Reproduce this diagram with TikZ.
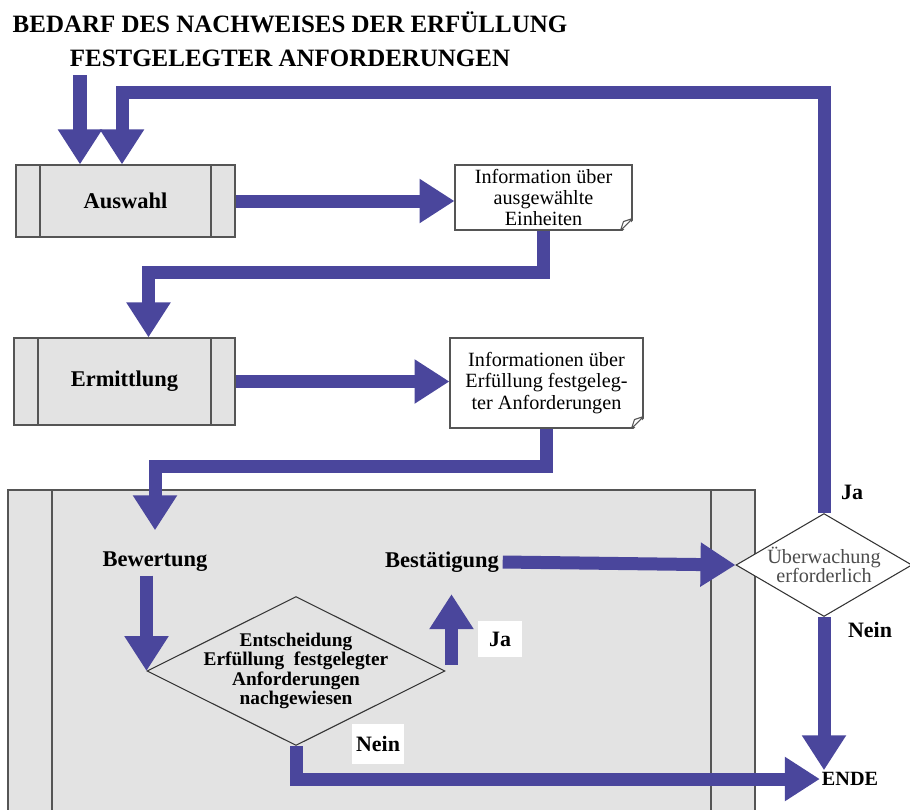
\documentclass[tikz,border=0pt]{standalone}
\usepackage{fontspec}
\setmainfont{Liberation Serif}
\usetikzlibrary{positioning,shapes.geometric,arrows.meta,calc}
\definecolor{flowblue}{RGB}{74,70,156}
\definecolor{boxgray}{RGB}{227,227,227}
\definecolor{linegray}{RGB}{85,85,85}

\tikzset{
  flow/.style={draw=flowblue, line width=7.4pt, -{Triangle[length=0.7cm,width=0.84cm]}},
  process/.style={draw=linegray, fill=boxgray, line width=0.7pt, inner sep=0pt,
    font=\bfseries\fontsize{12.8}{15}\selectfont,
    path picture={
      \draw[linegray, line width=0.7pt] ([xshift=#1]path picture bounding box.north west) -- ([xshift=#1]path picture bounding box.south west);
      \draw[linegray, line width=0.7pt] ([xshift=-#1]path picture bounding box.north east) -- ([xshift=-#1]path picture bounding box.south east);
    }},
  process/.default=0.48cm,
  info/.style={draw=linegray, fill=white, line width=0.6pt, align=center, inner sep=0pt,
    font=\fontsize{11.5}{12}\selectfont},
  decision/.style={diamond, draw=black!80, line width=0.6pt, align=center, inner sep=0pt},
  stepname/.style={font=\bfseries\fontsize{12.8}{15}\selectfont, inner sep=2pt},
  lbl/.style={font=\bfseries\fontsize{12.5}{14}\selectfont, inner sep=1pt},
  tagbox/.style={lbl, fill=white},
}

% folded corner of a document box
\newcommand{\eselsohr}[1]{%
  \fill[white] ([xshift=-0.24cm,yshift=-0.05cm]#1.south east) -- ([xshift=0.05cm,yshift=-0.05cm]#1.south east) -- ([xshift=0.05cm,yshift=0.24cm]#1.south east) -- cycle;
  \draw[linegray, line width=0.6pt, line join=round] ([xshift=-0.24cm]#1.south east) -- ([yshift=0.24cm]#1.south east) -- ([xshift=-0.18cm,yshift=0.18cm]#1.south east) -- cycle;
}

\begin{document}
\begin{tikzpicture}[x=0.02cm, y=-0.02cm]
\useasboundingbox (0,0) rectangle (910,809);
\clip (0,0) rectangle (910,809);

\node[font=\bfseries\fontsize{14.2}{19.5}\selectfont, align=center] (titel) at (290,39)
  {BEDARF DES NACHWEISES DER ERFÜLLUNG\\FESTGELEGTER ANFORDERUNGEN};

% boxes
\node[process, minimum width=4.38cm, minimum height=1.44cm] (auswahl) at (125.5,201) {Auswahl};
\node[info, minimum width=3.54cm, minimum height=1.3cm] (info1) at (543.5,197.5)
  {Information über\\ausgewählte\\Einheiten};
\node[process, minimum width=4.42cm, minimum height=1.74cm] (ermittlung) at (124.5,381.5) {Ermittlung};
\node[info, minimum width=3.86cm, minimum height=1.8cm] (info2) at (546.5,383)
  {Informationen über\\Erfüllung festgeleg-\\ter Anforderungen};
\eselsohr{info1}
\eselsohr{info2}

\node[process=0.88cm, minimum width=14.94cm, minimum height=6.5cm] (bigbox) at (381.5,652.5) {};

\node[stepname] (bewertung) at (155,562) {Bewertung};
\node[stepname] (bestaetigung) at (442,562) {Bestätigung};
\node[decision, aspect=2, inner xsep=-6pt, inner ysep=-2.5pt, minimum width=5.96cm, minimum height=2.98cm,
  font=\bfseries\fontsize{11}{11}\selectfont] (raute) at (296,671)
  {Entscheidung\\Erfüllung~~festgelegter\\Anforderungen\\nachgewiesen};
\node[tagbox, minimum width=0.88cm, minimum height=0.72cm] (jaeins) at (500,639) {Ja};
\node[tagbox, minimum width=1.04cm, minimum height=0.8cm] (neineins) at (378,744) {Nein};

\node[decision, fill=white, aspect=1.7, minimum width=3.52cm, minimum height=2.06cm,
  text=black!70, font=\fontsize{11.5}{11}\selectfont] (ueber) at (824,565)
  {Überwachung\\erforderlich};
\node[lbl] (jazwei) at (852,492) {Ja};
\node[lbl] (neinzwei) at (870,630) {Nein};
\node[lbl, font=\bfseries\fontsize{11.5}{13}\selectfont] (ende) at (850,779) {ENDE};

% connectors
\coordinate (start) at (80,75);
\coordinate (fb) at (122,92);
\draw[flow] (start) -- (start |- auswahl.north);
\draw[flow] (ueber.north) |- (fb) -- (fb |- auswahl.north);
\draw[flow] (auswahl.east) -- (auswahl.east -| info1.west);
\draw[flow] (info1.south) -- ++(0,42) -| ([xshift=0.48cm]ermittlung.north);
\draw[flow] (ermittlung.east) -- (ermittlung.east -| info2.west);
\draw[flow] (info2.south) -- ++(0,38) -| ([yshift=0.36cm]bewertung.north);
\draw[flow] (raute.west |- bewertung.south) -- (raute.west);
\draw[flow] ($(raute.east)+(6,-6)$) -- ($(raute.east |- bestaetigung.south)+(6,18)$);
\draw[flow] (bestaetigung.east) -- (ueber.west);
\draw[flow] (raute.south) |- (ende.west);
\draw[flow] (ueber.south) -- (ueber.south |- ende.north);

\end{tikzpicture}
\end{document}
